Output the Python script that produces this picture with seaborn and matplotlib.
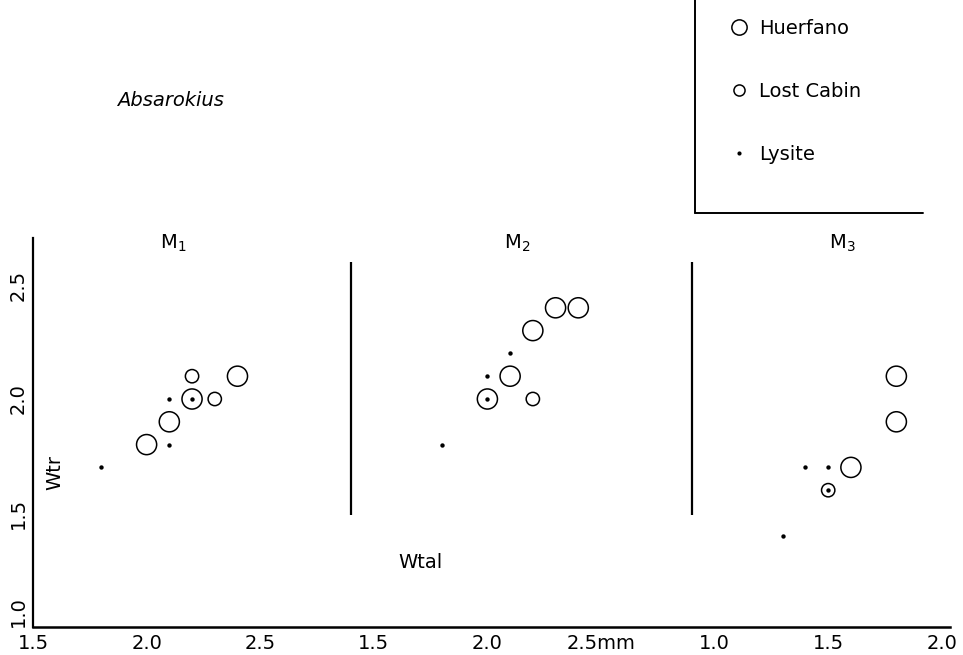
import pandas as pd
import matplotlib.pyplot as plt
from matplotlib.lines import Line2D
import seaborn as sns

# Absarokius: trigonid width (Wtr) against talonid width (Wtal), mm
tooth_names = ['M$_1$', 'M$_2$', 'M$_3$']
site_names = ['Huerfano', 'Lost Cabin', 'Lysite']

m1_wtal = [2.0, 2.1, 2.2, 2.4, 2.3, 2.2, 1.8, 2.1, 2.1, 2.2]
m1_wtr = [1.8, 1.9, 2.0, 2.1, 2.0, 2.1, 1.7, 1.8, 2.0, 2.0]
m1_site = ['Huerfano'] * 4 + ['Lost Cabin'] * 2 + ['Lysite'] * 4

m2_wtal = [2.0, 2.1, 2.2, 2.3, 2.4, 2.2, 1.8, 2.0, 2.0, 2.1]
m2_wtr = [2.0, 2.1, 2.3, 2.4, 2.4, 2.0, 1.8, 2.0, 2.1, 2.2]
m2_site = ['Huerfano'] * 5 + ['Lost Cabin'] + ['Lysite'] * 4

m3_wtal = [1.8, 1.8, 1.6, 1.5, 1.4, 1.5, 1.5, 1.3]
m3_wtr = [2.1, 1.9, 1.7, 1.6, 1.7, 1.7, 1.6, 1.4]
m3_site = ['Huerfano'] * 3 + ['Lost Cabin'] + ['Lysite'] * 4

x_tick_labels = ['1.5', '2.0', '2.5', '1.5', '2.0', '2.5mm', '1.0', '1.5', '2.0']
y_ticks = [1.0, 1.5, 2.0, 2.5]

# the three panels share one x axis, each shifted along it
offsets = [0.0, 1.5, 3.5]
panel_start = [None, 1.4, 0.9]

frames = []
for name, wtal, wtr, site, off in zip(tooth_names, [m1_wtal, m2_wtal, m3_wtal],
                                      [m1_wtr, m2_wtr, m3_wtr],
                                      [m1_site, m2_site, m3_site], offsets):
    d = pd.DataFrame({'tooth': name, 'wtal': wtal, 'wtr': wtr, 'site': site})
    d['pos'] = d['wtal'] + off
    frames.append(d)
data = pd.concat(frames, ignore_index=True)

sns.set_style('white')
plt.rcParams['font.family'] = ['DejaVu Sans']
plt.rcParams['mathtext.default'] = 'regular'
for key in ['text.color', 'xtick.color', 'ytick.color', 'axes.edgecolor',
            'axes.labelcolor']:
    plt.rcParams[key] = 'black'

W, H = 963, 655
fig = plt.figure(figsize=(W / 100, H / 100), dpi=100)
ax = fig.add_axes([33 / W, 28 / H, 917 / W, 389 / H])

circle_style = {'Huerfano': 210, 'Lost Cabin': 92}
for site, s in circle_style.items():
    sns.scatterplot(data=data[data['site'] == site], x='pos', y='wtr', s=s,
                    facecolor='none', edgecolor='black', linewidth=1.1, ax=ax)
sns.scatterplot(data=data[data['site'] == 'Lysite'], x='pos', y='wtr', s=10,
                color='black', linewidth=0, ax=ax)

# panel dividers
for start, off in zip(panel_start[1:], offsets[1:]):
    ax.plot([start + off, start + off], [1.49, 2.6], color='black', lw=1.6,
            solid_capstyle='butt')

ax.set_xlim(1.5, 1.5 + 917 / 227.2)
ax.set_ylim(1.0, 1.0 + 389 / 228)
ax.set_xticks([1.5 + 0.5 * i for i in range(len(x_tick_labels))])
ax.set_xticklabels(x_tick_labels, fontsize=14)
ax.set_yticks(y_ticks)
ax.set_yticklabels([f'{v:.1f}' for v in y_ticks], fontsize=14, rotation=90,
                   va='center')
ax.get_yticklabels()[0].set_va('bottom')
ax.tick_params(axis='x', direction='in', length=5, width=1.2, pad=5)
ax.tick_params(axis='y', length=0, pad=4)
ax.set_xlabel('')
ax.set_ylabel('')
sns.despine(ax=ax)
ax.spines['left'].set_linewidth(1.6)
ax.spines['bottom'].set_linewidth(1.8)
ax.patch.set_alpha(0)


def fx(px):
    return px / W


def fy(py):
    return 1 - py / H


fig.text(fx(170), fy(100), 'Absarokius', style='italic', fontsize=14,
         ha='center', va='center')
for name, px in zip(tooth_names, [173, 517, 842]):
    fig.text(fx(px), fy(243), name, fontsize=14, ha='center', va='center')
fig.text(fx(55), fy(472), 'Wtr', fontsize=14, rotation=90, ha='center', va='center')
fig.text(fx(420), fy(563), 'Wtal', fontsize=14, ha='center', va='center')

# legend box
fig.add_artist(Line2D([fx(695), fx(695)], [fy(0), fy(213)], color='black', lw=1.4))
fig.add_artist(Line2D([fx(695), fx(923)], [fy(213), fy(213)], color='black', lw=1.4))
handles = [
    Line2D([], [], ls='none', marker='o', ms=11, mfc='none', mec='black', mew=1.1),
    Line2D([], [], ls='none', marker='o', ms=8, mfc='none', mec='black', mew=1.1),
    Line2D([], [], ls='none', marker='o', ms=3, mfc='black', mec='black', mew=0),
]
fig.legend(handles, site_names, loc='upper left', frameon=False, fontsize=14,
           bbox_to_anchor=(fx(729), fy(19)), borderpad=0, borderaxespad=0,
           handlelength=1.0, handletextpad=0.55, labelspacing=2.25)

fig.savefig('out.png', dpi=100)
